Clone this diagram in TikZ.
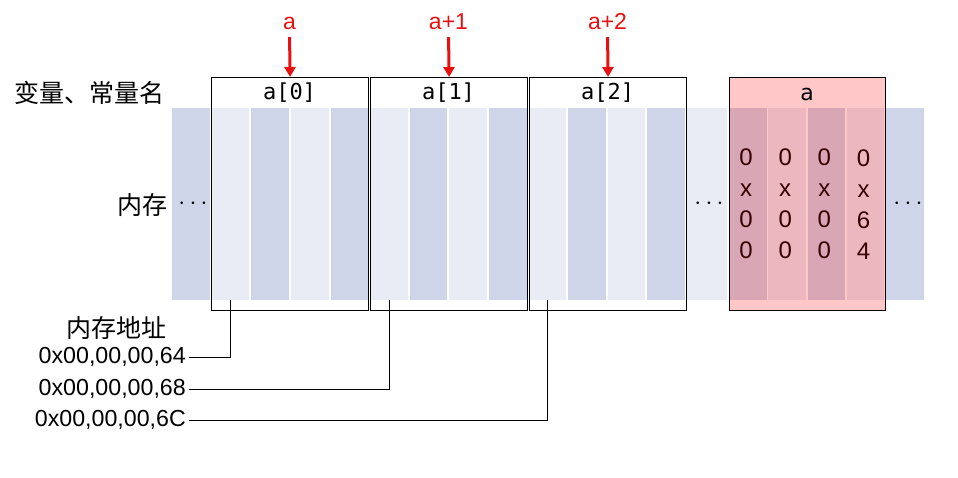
\documentclass[tikz,border=0pt]{standalone}
\usepackage{fontspec}
\setmainfont{Liberation Sans}
\newfontfamily\cjk{Noto Sans CJK SC}
\newfontfamily\monofont{DejaVu Sans Mono}
\newfontfamily\headfont{DejaVu Sans}
\usetikzlibrary{positioning}
\usetikzlibrary{arrows.meta}
\definecolor{cellDark}{RGB}{207,213,233}
\definecolor{cellLight}{RGB}{233,235,245}
\definecolor{ptrRed}{RGB}{232,16,16}

\begin{document}
\begin{tikzpicture}[x=1pt,y=-1pt,
    cell/.style={inner sep=0pt, minimum width=37.6pt, minimum height=192pt, anchor=north west},
    varbox/.style={draw, line width=1.2pt, inner sep=0pt, minimum width=157pt, minimum height=233pt, anchor=north west},
    cjklabel/.style={font=\cjk\fontsize{25}{28}\selectfont, inner sep=2pt},
    addr/.style={font=\fontsize{23.2}{26}\selectfont, anchor=east, inner sep=3pt},
    ptrlabel/.style={font=\fontsize{23}{24}\selectfont, text=ptrRed, text height=16pt, text depth=0pt, inner sep=2pt},
    ptr/.style={-{Triangle[length=10pt,width=11pt]}, line width=3pt, draw=ptrRed, shorten <=5pt},
    wire/.style={line width=1pt},
    dots/.style={font=\fontsize{26}{26}\selectfont}]
            \useasboundingbox (0,0) rectangle (958,478);

            % Memory cells
            \foreach \i in {0,...,12}{
                \ifodd\i \def\cellcol{cellLight}\else \def\cellcol{cellDark}\fi
                \node[cell, fill=\cellcol] (c\i) at ({172+39.6*\i},108) {};
            }
            \node[cell, fill=cellLight, minimum width=40.2pt] (c13) at (686.8,108) {};
            \foreach \i in {14,...,18}{
                \ifodd\i \def\cellcol{cellLight}\else \def\cellcol{cellDark}\fi
                \node[cell, fill=\cellcol] (c\i) at ({729+39.2*(\i-14)},108) {};
            }

            % Bytes of the variable a
            \node[font=\fontsize{24}{31}\selectfont, align=center] (d14) at ([xshift=-2pt]c14.center) {0\\x\\0\\0};
            \node[font=\fontsize{24}{31}\selectfont, align=center] (d15) at ([xshift=-2pt]c15.center) {0\\x\\0\\0};
            \node[font=\fontsize{24}{31}\selectfont, align=center] (d16) at ([xshift=-2pt]c16.center) {0\\x\\0\\0};
            \node[font=\fontsize{24}{31}\selectfont, align=center] (d17) at ([xshift=-2pt]c17.center) {0\\x\\6\\4};

            % Array elements
            \node[varbox] (b0) at (211,77) {};
            \node[varbox] (b1) at (370,77) {};
            \node[varbox] (b2) at (529,77) {};
            \node[font=\monofont\fontsize{22}{22}\selectfont] (h0) at (289.5,93) {a[0]};
            \node[font=\monofont\fontsize{22}{22}\selectfont] (h1) at (448.5,93) {a[1]};
            \node[font=\monofont\fontsize{22}{22}\selectfont] (h2) at (607.5,93) {a[2]};

            % Variable a
            \node[varbox, minimum width=156pt, fill=red, fill opacity=0.22, draw opacity=1] (av) at (729,77) {};
            \node[font=\headfont\fontsize{22}{22}\selectfont] (ah) at (807,94) {a};

            % Pointers
            \node[ptrlabel] (p0) at (289.5,22) {a};
            \node[ptrlabel] (p1) at (448.5,22) {a+1};
            \node[ptrlabel] (p2) at (607.5,22) {a+2};
            \draw[ptr] (p0.south) -- (b0.north);
            \draw[ptr] (p1.south) -- (b1.north);
            \draw[ptr] (p2.south) -- (b2.north);

            % Row labels
            \node[cjklabel] (names) at (89.5,93) {变量、常量名};
            \node[cjklabel] (mem) at (142,205) {内存};
            \node[dots] (dots0) at (193,204) {$\cdots$};
            \node[dots] (dots1) at (709,204) {$\cdots$};
            \node[dots] (dots2) at (908,204) {$\cdots$};

            % Addresses
            \node[cjklabel] (addrtitle) at (116,328) {内存地址};
            \node[addr] (addr0) at (189,357) {0x00,00,00,64};
            \node[addr] (addr1) at (189,389) {0x00,00,00,68};
            \node[addr] (addr2) at (189,420) {0x00,00,00,6C};
            \draw[wire] (c1.south) |- (addr0.east);
            \draw[wire] (c5.south) |- (addr1.east);
            \draw[wire] (c9.south) |- (addr2.east);
        \end{tikzpicture}
\end{document}
